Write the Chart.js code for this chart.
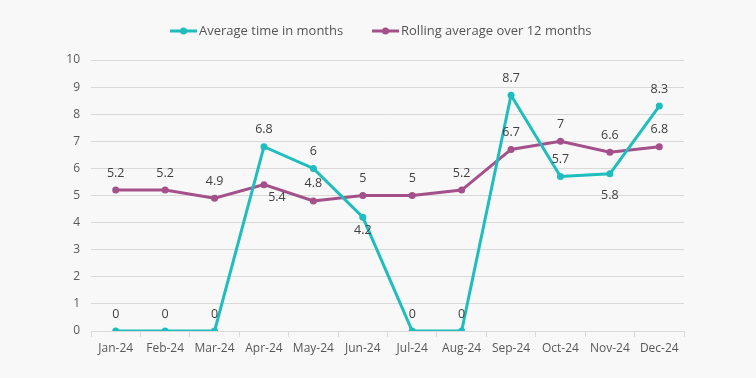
<!DOCTYPE html>
<html><head><meta charset="utf-8">
<script src="https://cdn.jsdelivr.net/npm/chart.js@4"></script>
<style>html,body{margin:0;padding:0;background:#f8f8f8;}#wrap{width:756px;height:378px;}</style>
</head><body><div id="wrap"><canvas id="c" width="756" height="378"></canvas></div>
<script>
const categories = ["Jan-24","Feb-24","Mar-24","Apr-24","May-24","Jun-24","Jul-24","Aug-24","Sep-24","Oct-24","Nov-24","Dec-24"];
const averageTime = [0,0,0,6.8,6,4.2,0,0,8.7,5.7,5.8,8.3];
const rollingAverage = [5.2,5.2,4.9,5.4,4.8,5,5,5.2,6.7,7,6.6,6.8];
const seriesNames = ["Average time in months","Rolling average over 12 months"];
const yTicks = [0,1,2,3,4,5,6,7,8,9,10];

const FONT = "'Open Sans', sans-serif";
const TEAL = '#1fbdbd';
const PURPLE = '#a4508a';

// label placement per dataset: [dx, dy] relative to point
const labelOffsets = [
  averageTime.map((v,i)=> i===5 ? [0,13] : i===10 ? [0,22] : [0,-17]),
  rollingAverage.map((v,i)=> i===3 ? [13,13] : [0,-17])
];

const labelPlugin = {
  id:'labels',
  afterDatasetsDraw(chart){
    const ctx = chart.ctx;
    ctx.save();
    ctx.font = "12.5px " + FONT;
    ctx.fillStyle = '#404040';
    ctx.textAlign='center';
    ctx.textBaseline='middle';
    chart.data.datasets.forEach((ds,di)=>{
      const meta = chart.getDatasetMeta(di);
      meta.data.forEach((pt,i)=>{
        const o = labelOffsets[di][i];
        ctx.fillText(String(ds.data[i]), pt.x+o[0], pt.y+o[1]);
      });
    });
    ctx.restore();
  }
};

const legendPlugin = {
  id:'customLegend',
  afterDraw(chart){
    const ctx = chart.ctx;
    ctx.save();
    ctx.font = "13px " + FONT;
    ctx.textBaseline='middle';
    const y = 31;
    const items = [[170, TEAL, seriesNames[0]],[372, PURPLE, seriesNames[1]]];
    items.forEach(([x,c,t])=>{
      ctx.strokeStyle=c; ctx.lineWidth=3;
      ctx.beginPath(); ctx.moveTo(x,y); ctx.lineTo(x+27,y); ctx.stroke();
      ctx.fillStyle=c; ctx.beginPath(); ctx.arc(x+13.5,y,3.5,0,Math.PI*2); ctx.fill();
      ctx.fillStyle='#555'; ctx.textAlign='left';
      ctx.fillText(t, x+29, y);
    });
    ctx.restore();
  }
};

const bgPlugin = {id:'bg', beforeDraw(chart){const c=chart.ctx;c.save();c.fillStyle='#f8f8f8';c.fillRect(0,0,chart.width,chart.height);c.restore();}};

new Chart(document.getElementById('c'), {
  type:'line',
  data:{
    labels:categories,
    datasets:[
      {label:seriesNames[0], data:averageTime, borderColor:TEAL, backgroundColor:TEAL, borderWidth:3, pointRadius:3.5, pointBackgroundColor:TEAL, pointBorderWidth:0, tension:0},
      {label:seriesNames[1], data:rollingAverage, borderColor:PURPLE, backgroundColor:PURPLE, borderWidth:3, pointRadius:3.5, pointBackgroundColor:PURPLE, pointBorderWidth:0, tension:0}
    ]
  },
  options:{
    responsive:false, animation:false, devicePixelRatio:1,
    layout:{padding:{left:0,right:72,top:60,bottom:0}},
    plugins:{legend:{display:false}, tooltip:{enabled:false}},
    scales:{
      x:{
        offset:true,
        grid:{offset:true, drawOnChartArea:false, drawTicks:true, tickLength:6, color:'#d9d9d9'},
        border:{color:'#d9d9d9'},
        ticks:{color:'#595959', font:{family:FONT, size:12}, padding:4, maxRotation:0, autoSkip:false},
        afterFit(s){ s.height = 47; }
      },
      y:{
        min:0,max:10,
        afterBuildTicks(s){ s.ticks = yTicks.map(v=>({value:v})); },
        grid:{color:'#d9d9d9', drawTicks:false},
        border:{display:false},
        ticks:{color:'#595959', font:{family:FONT, size:12}, padding:11},
        afterFit(s){ s.width = 91; }
      }
    }
  },
  plugins:[bgPlugin, labelPlugin, legendPlugin]
});
</script></body></html>
